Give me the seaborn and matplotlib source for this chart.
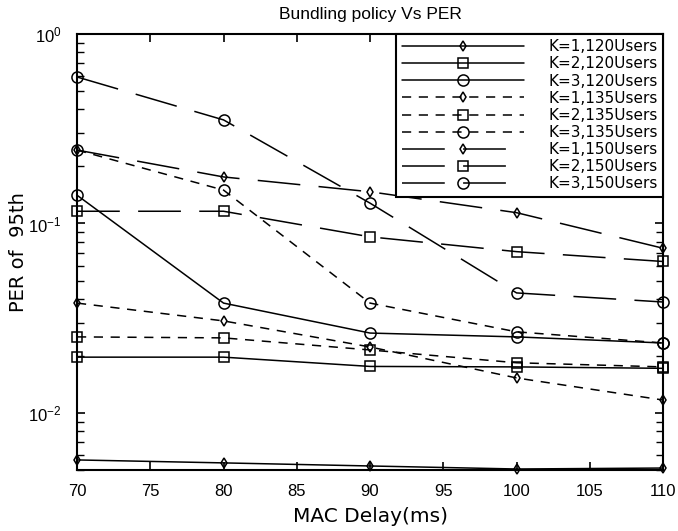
import matplotlib
matplotlib.use("Agg")
import matplotlib.pyplot as plt
import matplotlib.ticker as mticker
import seaborn as sns

# MAC delay (ms) on the x axis
mac_delay = [70, 80, 90, 100, 110]

# PER of 95th (log scale)
per_k1_120 = [0.00565, 0.00545, 0.00525, 0.00506, 0.00512]
per_k2_120 = [0.0197, 0.0197, 0.0176, 0.0175, 0.0172]
per_k3_120 = [0.141, 0.038, 0.0264, 0.0252, 0.0234]
per_k1_135 = [0.038, 0.0306, 0.0223, 0.0153, 0.0117]
per_k2_135 = [0.0252, 0.0249, 0.0215, 0.0184, 0.0175]
per_k3_135 = [0.244, 0.150, 0.038, 0.0268, 0.0234]
per_k1_150 = [0.244, 0.176, 0.147, 0.114, 0.074]
per_k2_150 = [0.116, 0.116, 0.085, 0.071, 0.063]
per_k3_150 = [0.593, 0.352, 0.128, 0.043, 0.0385]

labels = ['K=1,120Users', 'K=2,120Users', 'K=3,120Users',
          'K=1,135Users', 'K=2,135Users', 'K=3,135Users',
          'K=1,150Users', 'K=2,150Users', 'K=3,150Users']
series = [per_k1_120, per_k2_120, per_k3_120,
          per_k1_135, per_k2_135, per_k3_135,
          per_k1_150, per_k2_150, per_k3_150]

# line style per user count, marker per K
solid = '-'
short_dash = (0, (6, 5))
long_dash = (0, (28, 12))
line_styles = [solid] * 3 + [short_dash] * 3 + [long_dash] * 3
markers = ['d', 's', 'o'] * 3
marker_sizes = [5, 7, 8] * 3

sns.set_style("ticks")
plt.rcParams['font.family'] = ['Liberation Sans', 'DejaVu Sans']
plt.rcParams['text.color'] = 'k'
plt.rcParams['axes.labelcolor'] = 'k'
plt.rcParams['ytick.minor.visible'] = True
plt.rcParams['ytick.minor.size'] = 5
plt.rcParams['ytick.minor.width'] = 1.0
plt.rcParams['ytick.direction'] = 'in'
plt.rcParams['xtick.direction'] = 'in'

fig = plt.figure(figsize=(6.78, 5.31), dpi=100)
ax = fig.add_axes([0.1136, 0.1149, 0.8644, 0.8211])

for vals, lab, ls, mk, ms in zip(series, labels, line_styles, markers, marker_sizes):
    sns.lineplot(x=mac_delay, y=vals, ax=ax, color='k', linewidth=1.1,
                 linestyle=ls, marker=mk, markersize=ms,
                 markerfacecolor='none', markeredgecolor='k',
                 markeredgewidth=1.1, label=lab, clip_on=False)

ax.set_yscale('log')
ax.set_xlim(70, 110)
ax.set_ylim(0.005, 1)
ax.set_xticks(range(70, 111, 5))
ax.set_yticks([0.01, 0.1, 1])
# minor ticks 2..9 of every decade
minor_y = [m * d for d in (0.001, 0.01, 0.1) for m in range(2, 10) if 0.005 <= m * d <= 1]
ax.yaxis.set_minor_locator(mticker.FixedLocator(minor_y))
ax.yaxis.set_minor_formatter(mticker.NullFormatter())

# matlab-like box with inward ticks on every side
for sp in ax.spines.values():
    sp.set_visible(True)
    sp.set_linewidth(1.5)
    sp.set_color('k')
ax.tick_params(which='both', direction='in', top=True, right=True,
               left=True, colors='k', labelsize=12)
ax.tick_params(which='major', length=6, width=1.2)
ax.yaxis.set_tick_params(which='minor', length=5, width=1.0, left=True, right=True)
ax.tick_params(axis='x', which='major', pad=10)
ax.tick_params(axis='y', which='major', pad=11)

ax.set_title('Bundling policy Vs PER', fontsize=12.5, pad=11)
ax.set_xlabel('MAC Delay(ms)', fontsize=14.5, labelpad=6, family='DejaVu Sans')
ax.set_ylabel('PER of  95th', fontsize=14, labelpad=0, family='DejaVu Sans')

handles, labs = ax.get_legend_handles_labels()
leg = ax.legend(handles, labs, loc='upper right', borderaxespad=0,
                prop={'family': 'DejaVu Sans', 'size': 11},
                handlelength=8, labelspacing=0.14,
                handletextpad=1.6, borderpad=0.35, fancybox=False,
                framealpha=1, edgecolor='k')
leg.get_frame().set_linewidth(1.5)

fig.savefig('out.png', dpi=100)
